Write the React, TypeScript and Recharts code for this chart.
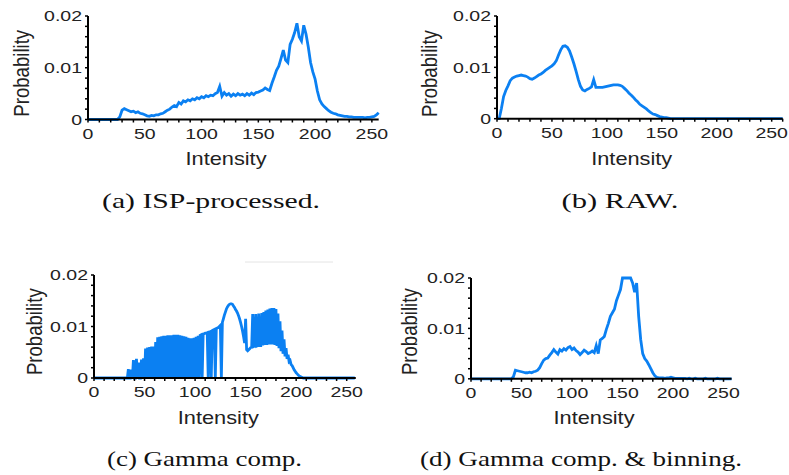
import { LineChart, Line, XAxis, YAxis } from "recharts";

// probability values are stored in units of 1e-4
const yTicks = [0, 0.002, 0.004, 0.006, 0.008, 0.01, 0.012, 0.014, 0.016, 0.018, 0.02];
const xTicks = [0, 10, 20, 30, 40, 50, 60, 70, 80, 90, 100, 110, 120, 130, 140, 150, 160, 170, 180, 190, 200, 210, 220, 230, 240, 250, 260];

// (a) ISP-processed, one value every 2 intensity levels
const ispProcessed = [
  0, 0, 0, 0, 0, 0, 0, 0, 0, 0, 0, 0, 0, 0,
  5, 18, 21, 19, 17, 15, 16, 13, 15, 12,
  11, 9, 7, 6, 8, 7, 9, 9, 11, 12,
  15, 18, 20, 24, 27, 25, 33, 30, 36, 34,
  38, 36, 40, 38, 42, 40, 44, 42, 46, 44,
  47, 46, 50, 52, 64, 45, 52, 47, 50, 45,
  49, 46, 50, 47, 49, 46, 50, 47, 51, 48,
  52, 53, 55, 57, 61, 58, 56, 70, 82, 95,
  103, 118, 134, 115, 110, 145, 155, 168, 186, 160,
  152, 182, 165, 140, 110, 92, 78, 55, 38, 30,
  25, 21, 17, 14, 12, 11, 9, 8, 7, 6,
  6, 5, 5, 4, 4, 4, 4, 4, 3, 4,
  4, 5, 6, 9, 13,
];

// (b) RAW, one value every 2 intensity levels
const raw = [
  0, 0, 20, 43, 55, 64, 74, 79, 81, 83,
  84, 85, 84, 83, 81, 78, 77, 79, 82, 85,
  87, 90, 94, 97, 100, 103, 107, 113, 124, 134,
  141, 142, 139, 132, 120, 107, 92, 76, 63, 56,
  54, 57, 59, 62, 76, 61, 61, 61, 61, 62,
  63, 64, 65, 66, 66, 66, 65, 63, 59, 55,
  50, 46, 42, 37, 33, 28, 25, 22, 19, 15,
  12, 9, 8, 6, 4, 3, 2, 2, 1,
  0, 0, 0, 0, 0, 0, 0, 0, 0, 0, 0, 0, 0,
  0, 0, 0, 0, 0, 0, 0, 0, 0, 0, 0, 0, 0,
  0, 0, 0, 0, 0, 0, 0, 0, 0, 0, 0, 0, 0,
  0, 0, 0, 0, 0, 0, 0, 0, 0, 0, 0, 0, 0,
];

// (c) Gamma comp., one value per intensity level
const gammaComp = [
  0, 0, 0, 0, 0, 0, 0, 0, 0, 0, 0, 0, 0, 0, 0, 0, 0,
  0, 0, 0, 0, 0, 0, 0, 0, 0, 0, 0, 0, 0, 0, 0, 0,
  0, 17, 0, 0, 16, 0, 35, 0, 0, 37,
  0, 30, 0, 0, 36, 0, 38, 0, 57, 0,
  59, 0, 60, 0, 61, 0, 61, 0, 70, 0,
  79, 0, 80, 0, 81, 0, 82, 0, 82, 0,
  83, 0, 83, 0, 83, 0, 84, 0, 84, 0,
  84, 0, 83, 0, 82, 0, 81, 0, 80, 0,
  78, 0, 77, 0, 77, 0, 78, 0, 80, 0,
  82, 0, 83,
  84, 0, 85, 86, 87, 87, 88, 0, 89, 90,
  0, 92, 93, 94, 0, 96, 97, 98, 100, 102,
  0, 108, 115, 122, 128, 134, 138, 141, 143, 144,
  144, 143, 140, 137, 133, 130, 126, 121, 115, 108,
  100, 91, 80, 68, 115, 55, 53, 55, 57, 59,
  60, 124, 61, 62, 124, 62, 63, 125, 63, 63,
  126, 63, 128, 64, 131, 64, 133, 65, 135, 65,
  136, 65, 136, 64, 134, 62, 125, 58, 110, 52,
  92, 47, 75, 42, 58, 37, 45, 32, 34, 26,
  24, 20, 16, 13, 10, 8, 6, 4, 3, 2,
  1,
  0, 0, 0, 0, 0, 0, 0, 0, 0, 0, 0, 0, 0,
  0, 0, 0, 0, 0, 0, 0, 0, 0, 0, 0, 0, 0,
  0, 0, 0, 0, 0, 0, 0, 0, 0, 0, 0, 0, 0,
  0, 0, 0, 0, 0, 0, 0, 0, 0, 0, 0, 0, 0,
];

// (d) Gamma comp. & binning, one value every 2 intensity levels
const gammaBinned = [
  0, 0, 0, 0, 0, 0, 0, 0, 0, 0, 0, 0, 0, 0, 0, 0, 0, 0, 0, 0, 0,
  4, 17, 16, 15, 14, 13, 12, 12, 13, 12,
  14, 15, 17, 22, 30, 37, 40, 41, 47, 52,
  58, 53, 49, 58, 55, 60, 57, 62, 64, 58,
  61, 56, 53, 48, 52, 57, 54, 50, 52, 55,
  52, 66, 50, 77, 80, 84, 98, 110, 124, 131,
  138, 155, 166, 177, 200, 200, 200, 200, 200, 190,
  172, 190, 124, 78, 50, 40, 35, 28, 20, 12,
  6, 3, 2, 2, 2, 1, 2, 2, 3, 2,
  1, 1, 1, 1, 1, 1, 0, 1, 0, 0, 1, 0, 0, 0, 0,
  1, 0, 0, 0, 0, 0, 1, 0, 0, 0, 0, 0, 0, 0,
];

const COLOR = "#0b80f2";
const SANS = '"Liberation Sans", Arial, Helvetica, sans-serif';
const SERIF = '"Liberation Serif", "Times New Roman", serif';

const toRows = (values: number[], step: number) =>
  values.map((v, i) => ({ x: i * step, p: v / 10000 }));

function XTick(props: any) {
  const { x, y, payload } = props;
  if (payload.value % 50 !== 0) return <g />;
  return (
    <text
      transform={`translate(${x},${y + 14.5}) scale(1.3,1)`}
      textAnchor="middle"
      fontFamily={SANS}
      fontSize={15}
      fill="#222"
    >
      {payload.value}
    </text>
  );
}

function YTick(props: any) {
  const { x, y, payload } = props;
  const v = payload.value;
  const h = Math.round(v * 100);
  if (Math.abs(v * 100 - h) > 1e-6) return <g />;
  const label = h === 0 ? "0" : (h / 100).toFixed(2);
  return (
    <text
      transform={`translate(${x - 1},${y + 5.3}) scale(1.3,1)`}
      textAnchor="end"
      fontFamily={SANS}
      fontSize={15}
      fill="#222"
    >
      {label}
    </text>
  );
}

type PanelProps = {
  rows: { x: number; p: number }[];
  left: number;
  top: number;
  width: number;
  height: number;
  xMax: number;
};

function Panel({ rows, left, top, width, height, xMax }: PanelProps) {
  const ml = 70, mt = 14, mr = 16, mb = 40, yw = 60, xh = 30;
  return (
    <div style={{ position: "absolute", left: left - ml, top: top - mt }}>
      <LineChart
        width={width + ml + mr}
        height={height + mt + mb}
        data={rows}
        margin={{ top: mt, right: mr, left: ml - yw, bottom: mb - xh }}
      >
        <XAxis
          dataKey="x"
          type="number"
          domain={[0, xMax]}
          ticks={xTicks.filter((t) => t <= xMax)}
          interval={0}
          tick={<XTick />}
          tickSize={3}
          tickLine={{ stroke: "#000", strokeWidth: 1.5 }}
          axisLine={{ stroke: "#000", strokeWidth: 2 }}
          height={xh}
        />
        <YAxis
          type="number"
          domain={[0, 0.02]}
          ticks={yTicks}
          interval={0}
          tick={<YTick />}
          tickSize={3}
          tickLine={{ stroke: "#000", strokeWidth: 1.5 }}
          axisLine={{ stroke: "#000", strokeWidth: 2 }}
          width={yw}
        />
        <Line
          type="linear"
          dataKey="p"
          stroke={COLOR}
          strokeWidth={2.8}
          dot={false}
          isAnimationActive={false}
        />
      </LineChart>
    </div>
  );
}

function AxisTitles({ ix, iy, px, py }: { ix: number; iy: number; px: number; py: number }) {
  return (
    <g fontFamily={SANS} fontSize={18.6} fill="#222">
      <text transform={`translate(${ix},${iy}) scale(1.17,1)`} textAnchor="middle">
        Intensity
      </text>
      <text transform={`translate(${px},${py}) scale(1.17,1) rotate(-90)`} textAnchor="middle">
        Probability
      </text>
    </g>
  );
}

function Caption({ cx, y, w, text }: { cx: number; y: number; w: number; text: string }) {
  return (
    <text
      x={cx - w / 2}
      y={y}
      textLength={w}
      lengthAdjust="spacingAndGlyphs"
      fontFamily={SERIF}
      fontSize={22}
      fill="#111"
    >
      {text}
    </text>
  );
}

export default function App() {
  return (
    <div
      style={{
        position: "absolute",
        left: 0,
        top: 0,
        width: 789,
        height: 475,
        overflow: "hidden",
        background: "#fff",
      }}
    >
      <Panel rows={toRows(ispProcessed, 2)} left={88} top={16} width={290.7} height={103.5} xMax={256} />
      <Panel rows={toRows(raw, 2)} left={497} top={16.3} width={285.7} height={102.7} xMax={260} />
      <Panel rows={toRows(gammaComp, 1)} left={94} top={275.3} width={261.8} height={103} xMax={259} />
      <Panel rows={toRows(gammaBinned, 2)} left={470.5} top={277.5} width={260.6} height={100.8} xMax={258} />
      <svg
        width={789}
        height={475}
        style={{ position: "absolute", left: 0, top: 0, pointerEvents: "none" }}
      >
        <line x1={245} y1={262} x2={333} y2={262} stroke="#e4e4e4" strokeWidth={1} />
        <AxisTitles ix={226} iy={165} px={29} py={73.3} />
        <AxisTitles ix={631.7} iy={165} px={437.4} py={73.5} />
        <AxisTitles ix={218.3} iy={424} px={42.3} py={331.7} />
        <AxisTitles ix={594} iy={424} px={417.3} py={331.7} />
        <Caption cx={211} y={208} w={218} text="(a) ISP-processed." />
        <Caption cx={620} y={208} w={117} text="(b) RAW." />
        <Caption cx={204.5} y={466} w={195} text="(c) Gamma comp." />
        <Caption cx={581} y={466} w={322} text="(d) Gamma comp. & binning." />
      </svg>
    </div>
  );
}
